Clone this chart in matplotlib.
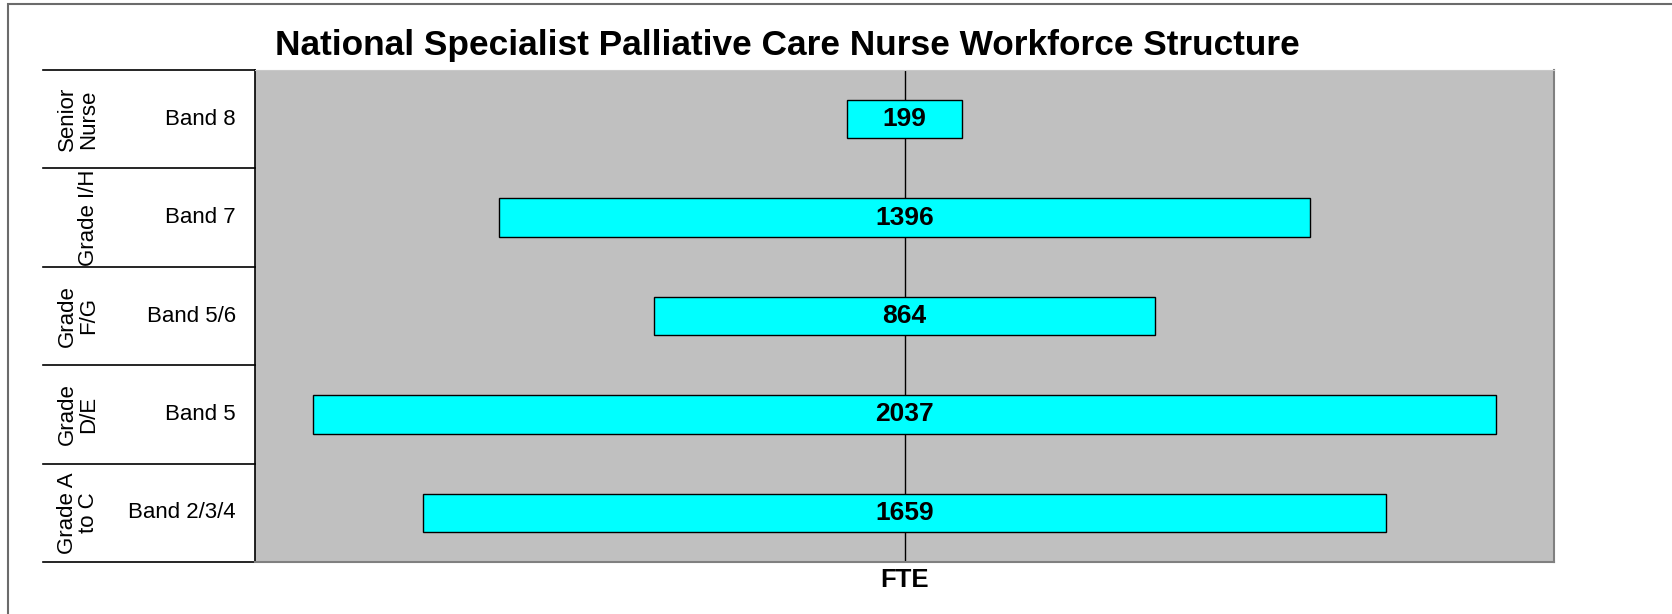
import matplotlib
matplotlib.use("Agg")
import matplotlib.pyplot as plt
from matplotlib.transforms import blended_transform_factory
from matplotlib.patches import Rectangle

plt.rcParams['font.family'] = ['Liberation Sans', 'DejaVu Sans']

# Data (top to bottom)
bands = ["Band 8", "Band 7", "Band 5/6", "Band 5", "Band 2/3/4"]
grades = ["Senior\nNurse", "Grade I/H", "Grade\nF/G", "Grade\nD/E", "Grade A\nto C"]
fte = [199, 1396, 864, 2037, 1659]

title = "National Specialist Palliative Care Nurse Workforce Structure"

W, H = 1672, 614
fig = plt.figure(figsize=(W / 100, H / 100), dpi=100)
fig.patch.set_facecolor("white")

# outer frame (partially cut off at right/bottom)
fig.add_artist(Rectangle((8 / W, -0.1), 1.2, (1 - 4 / H) + 0.1, transform=fig.transFigure,
                         fill=False, edgecolor="#6b6b6b", lw=1.5))

ax = fig.add_axes([255 / W, 1 - 562 / H, (1554 - 255) / W, (562 - 70) / H])
ax.set_facecolor("#C0C0C0")

n = len(bands)
ypos = [n - 1 - i for i in range(n)]
lefts = [-v / 2 for v in fte]

ax.axvline(0, color="black", lw=1.0, zorder=1)
ax.barh(ypos, fte, left=lefts, height=0.39, color="#00FFFF", edgecolor="black",
        linewidth=1.0, zorder=2)
for y, v in zip(ypos, fte):
    ax.text(0, y, str(v), ha="center", va="center", fontsize=19, fontweight="bold", zorder=3)

ax.set_xlim(-1118, 1118)
ax.set_ylim(-0.5, n - 0.5)
ax.set_xticks([])
ax.set_yticks([])
ax.set_xlabel("FTE", fontsize=18.5, fontweight="bold", labelpad=4)

for side in ["right", "bottom"]:
    ax.spines[side].set_color("#808080")
    ax.spines[side].set_linewidth(1.5)
ax.spines["top"].set_color("#c8c8c8")
ax.spines["left"].set_color("black")
ax.spines["left"].set_linewidth(1.2)

# left label table
tr = blended_transform_factory(fig.transFigure, ax.transData)
for k in range(n + 1):
    y = k - 0.5
    ax.plot([43 / W, 255 / W], [y, y], color="black", lw=1.2, transform=tr, clip_on=False)
for y, b, g in zip(ypos, bands, grades):
    ax.text(236 / W, y, b, ha="right", va="center", fontsize=16, transform=tr)
    ax.text(99 / W, y, g, ha="right", va="center", rotation=90, fontsize=16,
            multialignment="center", transform=tr, linespacing=1.0)

fig.text(787 / W, 1 - 55 / H, title, ha="center", va="baseline", fontsize=25.4, fontweight="bold")

fig.savefig("out.png", dpi=100)
